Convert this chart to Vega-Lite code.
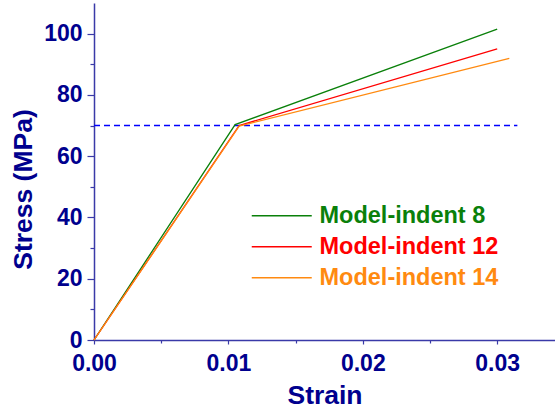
{
  "$schema": "https://vega.github.io/schema/vega-lite/v6.json",
  "width": 461,
  "height": 337,
  "autosize": "none",
  "padding": {"left": 94, "top": 3, "right": 0, "bottom": 72},
  "background": "white",
  "config": {
    "view": {"stroke": null},
    "font": "Liberation Sans",
    "axis": {
      "grid": false,
      "domainColor": "#3a3aa8",
      "tickColor": "#3a3aa8",
      "domainWidth": 1.5,
      "tickWidth": 1.2,
      "labelColor": "#00008e",
      "titleColor": "#00008e",
      "labelFont": "Liberation Sans",
      "titleFont": "Liberation Sans",
      "labelFontWeight": "bold",
      "titleFontWeight": "bold",
      "labelFontSize": 23,
      "titleFontSize": 26.5
    }
  },
  "datasets": {
    "curves": [
      {"series": "Model-indent 8", "strain": 0, "stress": 0},
      {"series": "Model-indent 8", "strain": 0.0105, "stress": 70.3},
      {"series": "Model-indent 8", "strain": 0.0300, "stress": 101.5},
      {"series": "Model-indent 12", "strain": 0, "stress": 0},
      {"series": "Model-indent 12", "strain": 0.0108, "stress": 70.0},
      {"series": "Model-indent 12", "strain": 0.0300, "stress": 95.0},
      {"series": "Model-indent 14", "strain": 0, "stress": 0},
      {"series": "Model-indent 14", "strain": 0.0108, "stress": 69.8},
      {"series": "Model-indent 14", "strain": 0.0309, "stress": 91.9}
    ],
    "yieldLine": [
      {"start": 0, "end": 0.0315, "level": 70}
    ]
  },
  "resolve": {"axis": {"x": "independent", "y": "independent"}},
  "layer": [
    {
      "data": {"name": "yieldLine"},
      "mark": {"type": "rule", "color": "#0000ff", "strokeDash": [6, 4], "strokeWidth": 1.5},
      "encoding": {
        "x": {
          "field": "start", "type": "quantitative",
          "scale": {"domain": [0, 0.0343], "nice": false, "zero": false},
          "axis": {"orient": "bottom", "values": [0.005, 0.015, 0.025], "labels": false, "title": null, "tickSize": 3, "domain": false}
        },
        "x2": {"field": "end"},
        "y": {
          "field": "level", "type": "quantitative",
          "scale": {"domain": [0, 110], "nice": false},
          "axis": {"orient": "left", "values": [10, 30, 50, 70, 90], "labels": false, "title": null, "tickSize": 4, "domain": false}
        }
      }
    },
    {
      "data": {"name": "curves"},
      "mark": {"type": "line", "strokeWidth": 1.3},
      "encoding": {
        "x": {
          "field": "strain", "type": "quantitative",
          "scale": {"domain": [0, 0.0343], "nice": false, "zero": false},
          "axis": {"orient": "bottom", "values": [0, 0.01, 0.02, 0.03], "format": ".2f", "title": "Strain", "tickSize": 4, "labelPadding": 8, "titlePadding": 7, "labelFlush": false}
        },
        "y": {
          "field": "stress", "type": "quantitative",
          "scale": {"domain": [0, 110], "nice": false},
          "axis": {"orient": "left", "values": [0, 20, 40, 60, 80, 100], "title": "Stress (MPa)", "tickSize": 7, "labelPadding": 5, "titlePadding": 6, "titleY": 186, "labelFlush": false}
        },
        "color": {
          "field": "series", "type": "nominal",
          "scale": {"domain": ["Model-indent 8", "Model-indent 12", "Model-indent 14"], "range": ["#0a800a", "#ff0000", "#ff8a10"]},
          "legend": {
            "title": null,
            "orient": "none",
            "legendX": 176,
            "legendY": 201,
            "symbolType": "M-3,0H3",
            "symbolSize": 400,
            "symbolStrokeWidth": 1.3,
            "labelFontSize": 23.5,
            "labelFont": "Liberation Sans",
            "labelFontWeight": "bold",
            "labelOffset": 26,
            "rowPadding": 6,
            "padding": 0,
            "labelLimit": 300,
            "encode": {
              "labels": {"update": {"fill": {"scale": "color", "field": "value"}}}
            }
          }
        },
        "detail": {"field": "series"}
      }
    }
  ]
}
